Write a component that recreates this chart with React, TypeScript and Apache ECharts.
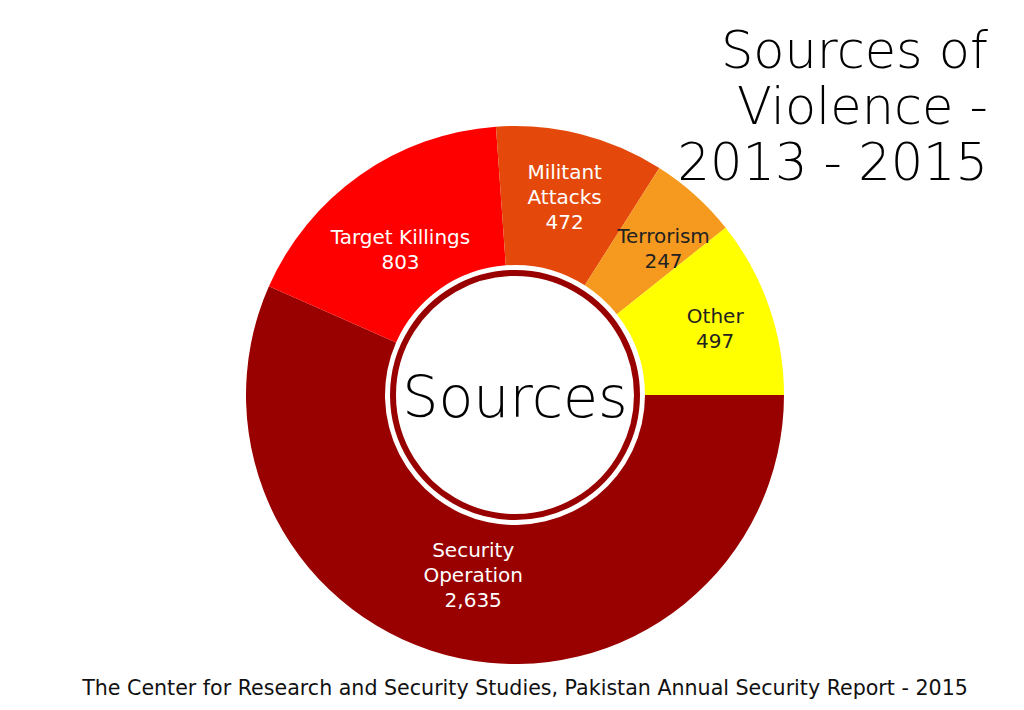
import React, { useEffect, useRef } from "react";
import * as echarts from "echarts";

const categories = ["Security Operation", "Target Killings", "Militant Attacks", "Terrorism", "Other"];
const labelNames = ["Security\nOperation", "Target Killings", "Militant\nAttacks", "Terrorism", "Other"];
const values = [2635, 803, 472, 247, 497];
const colors = ["#990000", "#ff0000", "#e4490b", "#f59a1f", "#ffff00"];
const labelColors = ["#ffffff", "#ffffff", "#ffffff", "#222222", "#222222"];
const labelOffsets = [[0, -18], [2, 20], [0, -2], [13, 4], [9, 0]];
const titleLines = ["Sources of", "Violence -", "2013 - 2015"];
const centerText = "Sources";
const footer = "The Center for Research and Security Studies, Pakistan Annual Security Report - 2015";

const FONT = "DejaVu Sans";

export default function App() {
  const ref = useRef<HTMLDivElement>(null);
  useEffect(() => {
    document.body.style.margin = "0";
    const chart = echarts.init(ref.current!, null, { renderer: "svg" });
    const cx = 515, cy = 395;
    chart.setOption({
      animation: false,
      backgroundColor: "#ffffff",
      series: [
        {
          type: "pie",
          center: [cx, cy],
          radius: [130, 269],
          startAngle: 0,
          clockwise: true,
          silent: true,
          data: categories.map((c, i) => ({
            name: c,
            value: values[i],
            itemStyle: { color: colors[i] },
            label: { color: labelColors[i], offset: labelOffsets[i] },
          })),
          label: {
            show: true,
            position: "inside",
            fontFamily: FONT,
            fontSize: 20,
            fontWeight: "normal",
            lineHeight: 25,
            align: "center",
            formatter: (p: any) => labelNames[p.dataIndex] + "\n" + Number(p.value).toLocaleString("en-US"),
          },
          labelLine: { show: false },
        },
      ],
      graphic: [
        {
          type: "circle",
          shape: { cx, cy, r: 122 },
          style: { fill: "#ffffff", stroke: "#990000", lineWidth: 6 },
        },
        {
          type: "text",
          x: cx,
          y: cy + 2,
          style: {
            text: centerText,
            fontFamily: FONT,
            fontSize: 57,
            fontWeight: 200,
            fill: "#000000",
            textAlign: "center",
            textVerticalAlign: "middle",
          },
        },
        ...titleLines.map((t, i) => ({
          type: "text",
          x: 988,
          y: 50 + i * 56,
          style: {
            text: t,
            fontFamily: FONT,
            fontSize: 51,
            fontWeight: 200,
            fill: "#000000",
            textAlign: "right",
            textVerticalAlign: "middle",
          },
        })),
        {
          type: "text",
          x: 525,
          y: 688,
          style: {
            text: footer,
            fontFamily: FONT,
            fontSize: 20.6,
            fontWeight: "normal",
            fill: "#111111",
            textAlign: "center",
            textVerticalAlign: "middle",
          },
        },
      ],
    });
    return () => chart.dispose();
  }, []);
  return <div ref={ref} style={{ width: 1024, height: 710 }} />;
}
